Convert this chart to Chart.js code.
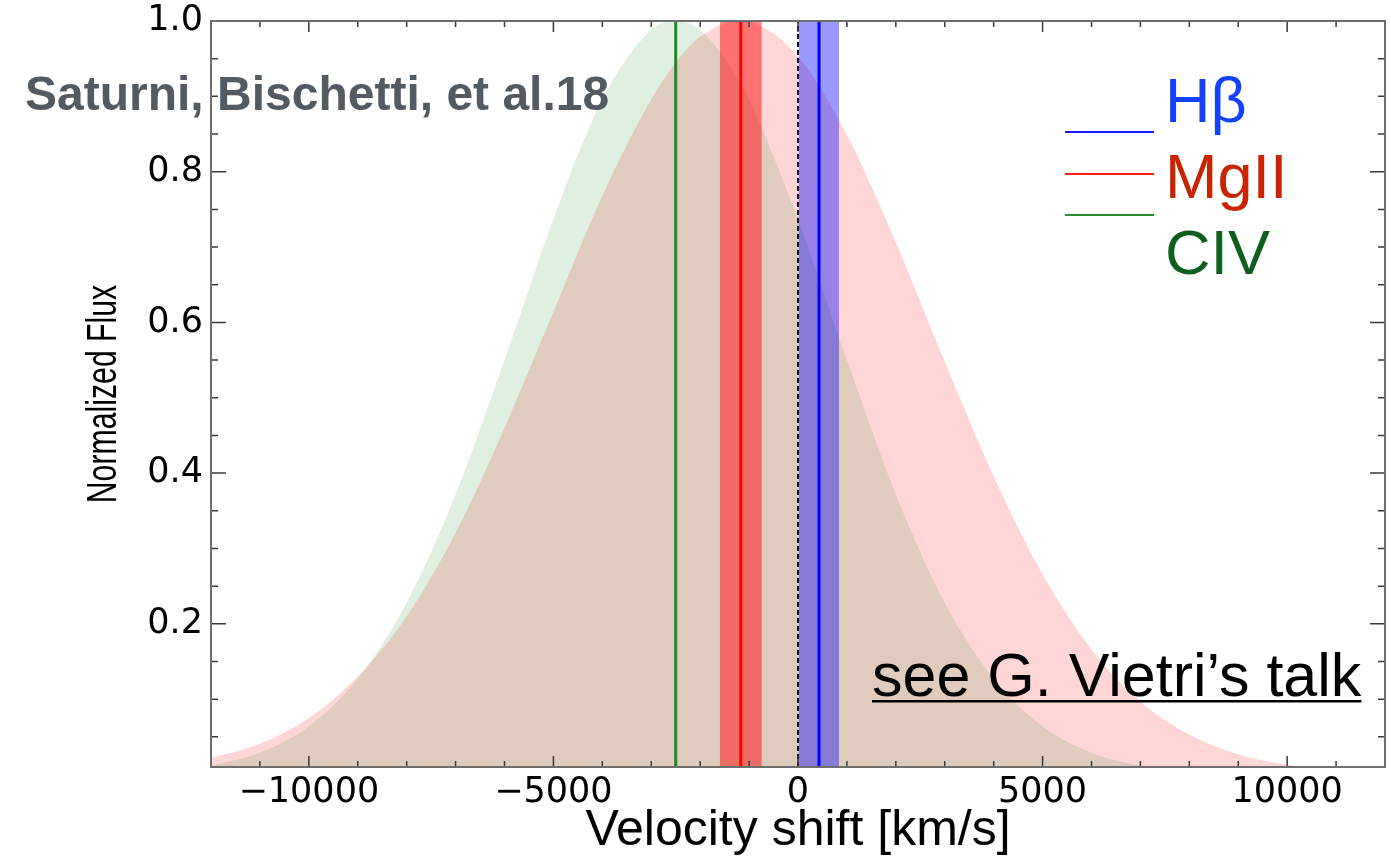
<!DOCTYPE html>
<html>
<head>
<meta charset="utf-8">
<script src="https://cdn.jsdelivr.net/npm/chart.js@4.4.1/dist/chart.umd.min.js"></script>
<style>
  html, body { margin: 0; padding: 0; background: #fff; }
  #wrap { width: 1391px; height: 864px; }
</style>
</head>
<body>
<div id="wrap"><canvas id="myChart" width="1391" height="864"></canvas></div>
<script>
// DATA
const velocity = [-12000, -11000, -10000, -9000, -8000, -7000, -6000, -5000, -4000, -3000, -2500, -2000, -1200,
                  -1000, 0, 1000, 2000, 3000, 4000, 5000, 6000, 7000, 8000, 9000, 10000, 11000, 12000];
// CIV profile (green)
const civFlux = [0.012, 0.029, 0.064, 0.127, 0.228, 0.372, 0.550, 0.737, 0.896, 0.988, 1.000, 0.988, 0.921,
                 0.896, 0.737, 0.550, 0.372, 0.228, 0.127, 0.064, 0.029, 0.012, 0.005, 0.002, 0.001, 0.000, 0.000];
// MgII profile (red)
const mgiiFlux = [0.022, 0.041, 0.075, 0.130, 0.210, 0.321, 0.460, 0.614, 0.768, 0.896, 0.945, 0.979, 1.000,
                  0.999, 0.953, 0.849, 0.706, 0.548, 0.396, 0.266, 0.166, 0.097, 0.053, 0.027, 0.013, 0.006, 0.002];
// line centres and uncertainty bands [km/s]
const civShift = -2500;
const mgiiShift = -1170;
const hbShift = 430;
const mgiiBand = [-1600, -740];
const hbBand = [10, 840];
const xTicks = [-10000, -5000, 0, 5000, 10000];
const yTicks = [0.2, 0.4, 0.6, 0.8, 1.0];

const yTop = 1.0, yBottom = 0.01;

const profile = (ys) => velocity.map((v, i) => ({ x: v, y: ys[i] }));
const vline = (v) => [{ x: v, y: yBottom }, { x: v, y: yTop }];
const band = (b) => [{ x: b[0], y: yTop }, { x: b[1], y: yTop }];

// matplotlib-like inward ticks + frame
const frame = {
  id: 'frame',
  afterDatasetsDraw(chart) {
    const { ctx, chartArea: a, scales: { x, y } } = chart;
    ctx.save();
    ctx.strokeStyle = '#3a3a3a';
    ctx.lineWidth = 1.5;
    ctx.beginPath();
    for (let v = -12000; v <= 12000; v += 1000) {
      const px = x.getPixelForValue(v);
      const len = v % 5000 === 0 ? 11 : 6;
      ctx.moveTo(px, a.bottom); ctx.lineTo(px, a.bottom - len);
      ctx.moveTo(px, a.top); ctx.lineTo(px, a.top + len);
    }
    for (let i = 1; i <= 20; i++) {
      const py = y.getPixelForValue(i * 0.05);
      const len = i % 4 === 0 ? 15 : 7;
      ctx.moveTo(a.left, py); ctx.lineTo(a.left + len, py);
      ctx.moveTo(a.right, py); ctx.lineTo(a.right - len, py);
    }
    ctx.stroke();
    ctx.strokeStyle = '#6e6e6e';
    ctx.lineWidth = 2;
    ctx.strokeRect(a.left, a.top, a.right - a.left, a.bottom - a.top);
    ctx.restore();
  }
};

// slide annotations: condensed y title, reference, legend, talk note
const notes = {
  id: 'notes',
  afterDraw(chart) {
    const { ctx, chartArea: a } = chart;
    ctx.save();
    ctx.translate(104, (a.top + a.bottom) / 2);
    ctx.rotate(-Math.PI / 2);
    ctx.scale(0.72, 1);
    ctx.font = '42px "Liberation Sans", Arial, sans-serif';
    ctx.fillStyle = '#000';
    ctx.textAlign = 'center';
    ctx.textBaseline = 'middle';
    ctx.fillText('Normalized Flux', 0, 0);
    ctx.restore();

    ctx.save();
    ctx.textBaseline = 'alphabetic';
    ctx.textAlign = 'left';
    ctx.font = 'bold 48px "Liberation Sans", Arial, sans-serif';
    ctx.fillStyle = '#545a61';
    ctx.fillText('Saturni, Bischetti, et al.18', 25, 110);

    const items = [
      { label: 'H\u03b2', line: '#1a1aff', text: '#1440ff', ly: 132, ty: 122 },
      { label: 'MgII', line: '#ff1a1a', text: '#c82400', ly: 174, ty: 198 },
      { label: 'CIV', line: '#2e8b2e', text: '#0e5e1e', ly: 215, ty: 274 }
    ];
    ctx.font = '63px "Liberation Sans", Arial, sans-serif';
    ctx.lineWidth = 2;
    items.forEach(it => {
      ctx.strokeStyle = it.line;
      ctx.beginPath(); ctx.moveTo(1065, it.ly); ctx.lineTo(1154, it.ly); ctx.stroke();
      ctx.fillStyle = it.text;
      ctx.fillText(it.label, 1165, it.ty);
    });

    ctx.fillStyle = '#000';
    ctx.font = '61px "Liberation Sans", Arial, sans-serif';
    const note = 'see G. Vietri\u2019s talk';
    ctx.fillText(note, 872, 696);
    const w = ctx.measureText(note).width;
    ctx.fillRect(872, 700, w, 2.5);
    ctx.restore();
  }
};

const ctx = document.getElementById('myChart').getContext('2d');

const chart = new Chart(ctx, {
  type: 'scatter',
  data: {
    datasets: [
      {
        label: 'MgII profile',
        data: profile(mgiiFlux),
        showLine: true, pointRadius: 0, borderWidth: 0,
        backgroundColor: 'rgba(255,0,0,0.16)',
        fill: 'start', cubicInterpolationMode: 'monotone',
        order: 7
      },
      {
        label: 'CIV profile',
        data: profile(civFlux),
        showLine: true, pointRadius: 0, borderWidth: 0,
        backgroundColor: 'rgba(0,128,0,0.12)',
        fill: 'start', cubicInterpolationMode: 'monotone',
        order: 6
      },
      {
        label: 'MgII band',
        data: band(mgiiBand),
        showLine: true, pointRadius: 0, borderWidth: 0,
        backgroundColor: 'rgba(255,0,0,0.48)',
        fill: 'start', order: 5
      },
      {
        label: 'Hb band',
        data: band(hbBand),
        showLine: true, pointRadius: 0, borderWidth: 0,
        backgroundColor: 'rgba(0,0,255,0.4)',
        fill: 'start', order: 4
      },
      {
        label: 'zero',
        data: vline(0),
        showLine: true, pointRadius: 0, borderWidth: 2,
        borderColor: '#000', borderDash: [5, 3],
        order: 3
      },
      {
        label: 'CIV',
        data: vline(civShift),
        showLine: true, pointRadius: 0, borderWidth: 3,
        borderColor: '#1f8a1f', order: 2
      },
      {
        label: 'MgII',
        data: vline(mgiiShift),
        showLine: true, pointRadius: 0, borderWidth: 3,
        borderColor: '#ff0000', order: 1
      },
      {
        label: 'Hb',
        data: vline(hbShift),
        showLine: true, pointRadius: 0, borderWidth: 3,
        borderColor: '#0000ff', order: 0
      }
    ]
  },
  options: {
    responsive: false,
    animation: false,
    devicePixelRatio: 1,
    layout: { padding: { top: 21, right: 6, left: 0, bottom: 0 } },
    plugins: { legend: { display: false }, tooltip: { enabled: false } },
    scales: {
      x: {
        type: 'linear', min: -12000, max: 12000,
        grid: { display: false, drawTicks: false },
        border: { display: false },
        afterBuildTicks: s => { s.ticks = xTicks.map(v => ({ value: v })); },
        ticks: {
          autoSkip: false, maxRotation: 0, padding: 5, color: '#000',
          font: { family: '"DejaVu Sans"', size: 35 },
          callback: v => (v < 0 ? '\u2212' + Math.abs(v) : String(v))
        },
        title: {
          display: true, text: 'Velocity shift [km/s]', color: '#000',
          font: { family: '"Liberation Sans", Arial', size: 50 },
          padding: { top: 0, bottom: 3 }
        },
        afterFit: s => { s.height = 97; }
      },
      y: {
        type: 'linear', min: yBottom, max: yTop,
        grid: { display: false, drawTicks: false },
        border: { display: false },
        afterBuildTicks: s => { s.ticks = yTicks.map(v => ({ value: v })); },
        ticks: {
          autoSkip: false, padding: 8, color: '#000',
          font: { family: '"DejaVu Sans"', size: 35, lineHeight: 0.5 },
          callback: v => v.toFixed(1)
        },
        afterFit: s => { s.width = 211; }
      }
    }
  },
  plugins: [frame, notes]
});
</script>
</body>
</html>
